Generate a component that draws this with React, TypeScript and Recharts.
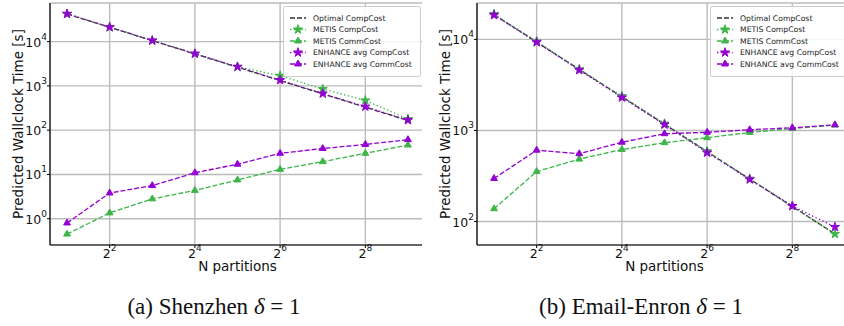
import React from 'react';
import { LineChart, Line, XAxis, YAxis, CartesianGrid, Legend, Symbols } from 'recharts';

// x values (number of partitions)
const partitions = [2, 4, 8, 16, 32, 64, 128, 256, 512];

// (a) Shenzhen
const szOptimal = [42200, 21100, 10550, 5280, 2640, 1320, 660, 330, 165];
const szMetisComp = [42200, 21100, 10550, 5300, 2700, 1700, 850, 470, 178];
const szMetisComm = [0.45, 1.35, 2.8, 4.35, 7.5, 13, 19.4, 30, 46];
const szEnhComp = [42500, 21200, 10600, 5350, 2700, 1350, 670, 340, 168];
const szEnhComm = [0.8, 3.8, 5.6, 10.9, 17, 30, 38.5, 47.5, 61];

// (b) Email-Enron
const eeOptimal = [18700, 9350, 4680, 2340, 1170, 585, 292, 146, 73];
const eeMetisComp = [19000, 9500, 4700, 2380, 1190, 590, 295, 148, 73];
const eeMetisComm = [138, 354, 484, 618, 733, 832, 950, 1050, 1145];
const eeEnhComp = [18500, 9300, 4600, 2300, 1160, 570, 290, 148, 87];
const eeEnhComm = [297, 607, 555, 742, 920, 955, 1018, 1070, 1153];

const xTicks = [4, 16, 64, 256];
const szYTicks = [1, 10, 100, 1000, 10000];
const eeYTicks = [100, 1000, 10000];

const GREEN = '#3db548';
const PURPLE = '#9400d3';
const DARK = '#333333';
const FONT = '"DejaVu Sans", sans-serif';

const DASHED = '5 2';
const DOTTED = '1.4 2.4';

const seriesDefs = [
  { key: 'optimal', name: 'Optimal CompCost', color: DARK, dash: DASHED, marker: null },
  { key: 'metisComp', name: 'METIS CompCost', color: GREEN, dash: DOTTED, marker: 'star' },
  { key: 'metisComm', name: 'METIS CommCost', color: GREEN, dash: DASHED, marker: 'triangle' },
  { key: 'enhComp', name: 'ENHANCE avg CompCost', color: PURPLE, dash: DOTTED, marker: 'star' },
  { key: 'enhComm', name: 'ENHANCE avg CommCost', color: PURPLE, dash: DASHED, marker: 'triangle' },
];

const buildRows = (opt: number[], mc: number[], mm: number[], ec: number[], em: number[]) =>
  partitions.map((n, i) => ({
    n,
    optimal: opt[i],
    metisComp: mc[i],
    metisComm: mm[i],
    enhComp: ec[i],
    enhComm: em[i],
  }));

const szData = buildRows(szOptimal, szMetisComp, szMetisComm, szEnhComp, szEnhComm);
const eeData = buildRows(eeOptimal, eeMetisComp, eeMetisComm, eeEnhComp, eeEnhComm);

// minor tick positions of a log axis (2..9 x each decade)
const minorTicks = ([lo, hi]: number[]) => {
  const out: number[] = [];
  for (let d = Math.floor(Math.log10(lo)); d <= Math.ceil(Math.log10(hi)); d++) {
    for (let m = 2; m <= 9; m++) {
      const v = m * Math.pow(10, d);
      if (v >= lo && v <= hi) out.push(v);
    }
  }
  return out;
};

const markerSize = (m: string) => (m === 'star' ? 26 : 20);

const YPowTick = ({ x, y, payload }: any) => {
  const exp = Math.round(Math.log10(payload.value));
  return (
    <text x={x} y={y} textAnchor="end" dominantBaseline="central" fontFamily={FONT} fontSize={12.5} fill="#111">
      <tspan>10</tspan>
      <tspan dy={-5} fontSize={9}>{exp}</tspan>
    </text>
  );
};

const XPowTick = ({ x, y, payload }: any) => {
  const exp = Math.round(Math.log2(payload.value));
  return (
    <text x={x} y={y + 5} textAnchor="middle" dominantBaseline="central" fontFamily={FONT} fontSize={12.5} fill="#111">
      <tspan>2</tspan>
      <tspan dy={-5} fontSize={9}>{exp}</tspan>
    </text>
  );
};

const LegendBox = () => (
  <svg width={140} height={72} style={{ display: 'block' }}>
    <rect x={0.5} y={0.5} width={137} height={70} rx={2} fill="#fff" fillOpacity={0.85} stroke="#cccccc" />
    {seriesDefs.map((s, i) => {
      const cy = 12 + i * 11.5;
      return (
        <g key={s.key}>
          <line x1={7} x2={23} y1={cy} y2={cy} stroke={s.color} strokeWidth={1.3} strokeDasharray={s.dash} />
          {s.marker && (
            <Symbols cx={15} cy={cy} type={s.marker as any} size={markerSize(s.marker)} fill={s.color} stroke={s.color} />
          )}
          <text x={30} y={cy} dominantBaseline="central" fontFamily={FONT} fontSize={7.7} fill="#222">
            {s.name}
          </text>
        </g>
      );
    })}
  </svg>
);

interface PanelProps {
  data: any[];
  yDomain: number[];
  yTicks: number[];
  axisWidth: number;
  labelDx: number;
  left: number;
  legendLeft: number;
  caption: string;
  captionCenter: number;
}

const X_DOMAIN = [1.516, 675.6];
const PLOT_W = 375;

const Panel = ({ data, yDomain, yTicks, axisWidth, labelDx, left, legendLeft, caption, captionCenter }: PanelProps) => (
  <>
    <div style={{ position: 'absolute', left, top: 0, width: 422, height: 280, overflow: 'hidden' }}>
      <LineChart
        width={axisWidth + PLOT_W}
        height={280}
        data={data}
        margin={{ top: 3, right: 0, bottom: 0, left: 0 }}
      >
        <CartesianGrid stroke="#bcbcbc" strokeWidth={1.4} />
        <XAxis
          dataKey="n"
          type="number"
          scale="log"
          domain={X_DOMAIN}
          allowDataOverflow
          ticks={xTicks}
          tick={<XPowTick />}
          tickSize={3}
          tickMargin={0}
          height={35}
          stroke="#000"
          tickLine={{ stroke: '#000' }}
          axisLine={{ stroke: '#000', strokeWidth: 1.2 }}
          label={{
            value: 'N partitions',
            position: 'center',
            dy: 4,
            style: { fontFamily: FONT, fontSize: 13.5, fill: '#111' },
          }}
        />
        <XAxis
          xAxisId="top"
          dataKey="n"
          type="number"
          scale="log"
          orientation="top"
          domain={X_DOMAIN}
          allowDataOverflow
          height={0}
          tick={false}
          tickLine={false}
          axisLine={{ stroke: '#000', strokeWidth: 1.2 }}
        />
        <YAxis
          yAxisId="minor"
          type="number"
          scale="log"
          domain={yDomain}
          allowDataOverflow
          ticks={minorTicks(yDomain)}
          width={0}
          tick={false}
          tickSize={2}
          tickLine={{ stroke: '#000' }}
          axisLine={false}
        />
        <YAxis
          type="number"
          scale="log"
          domain={yDomain}
          allowDataOverflow
          ticks={yTicks}
          tick={<YPowTick />}
          tickSize={3}
          tickMargin={0}
          width={axisWidth}
          tickLine={{ stroke: '#000' }}
          axisLine={{ stroke: '#000', strokeWidth: 1.2 }}
          label={{
            value: 'Predicted Wallclock Time [s]',
            angle: -90,
            position: 'center',
            dx: labelDx,
            style: { fontFamily: FONT, fontSize: 13.5, fill: '#111' },
          }}
        />
        {seriesDefs.map((s) => (
          <Line
            key={s.key}
            dataKey={s.key}
            name={s.name}
            type="linear"
            stroke={s.color}
            strokeWidth={1.3}
            strokeDasharray={s.dash}
            isAnimationActive={false}
            dot={
              s.marker
                ? (p: any) => (
                    <Symbols
                      key={`${s.key}-${p.index}`}
                      cx={p.cx}
                      cy={p.cy}
                      type={s.marker as any}
                      size={markerSize(s.marker)}
                      fill={s.color}
                      stroke={s.color}
                    />
                  )
                : false
            }
            activeDot={false}
          />
        ))}
        <Legend
          layout="horizontal"
          verticalAlign="middle"
          align="center"
          wrapperStyle={{ left: legendLeft, top: 6, width: 'auto', height: 'auto' }}
          content={() => <LegendBox />}
        />
      </LineChart>
    </div>
    <div
      style={{
        position: 'absolute',
        left: captionCenter - 200,
        width: 400,
        top: 294,
        textAlign: 'center',
        fontFamily: '"Liberation Serif", serif',
        fontSize: 23,
        lineHeight: '26px',
        color: '#111',
      }}
    >
      {caption} <i>δ</i> = 1
    </div>
  </>
);

const App = () => (
  <div
    style={{
      position: 'absolute',
      left: 0,
      top: 0,
      width: 844,
      height: 326,
      overflow: 'hidden',
      background: '#fff',
    }}
  >
    <Panel
      data={szData}
      yDomain={[0.2547, 74500]}
      yTicks={szYTicks}
      axisWidth={50}
      labelDx={-7}
      left={0}
      legendLeft={283}
      caption="(a) Shenzhen"
      captionCenter={214}
    />
    <Panel
      data={eeData}
      yDomain={[55.2, 25100]}
      yTicks={eeYTicks}
      axisWidth={55}
      labelDx={-4.5}
      left={422}
      legendLeft={288}
      caption="(b) Email-Enron"
      captionCenter={641}
    />
  </div>
);

export default App;
